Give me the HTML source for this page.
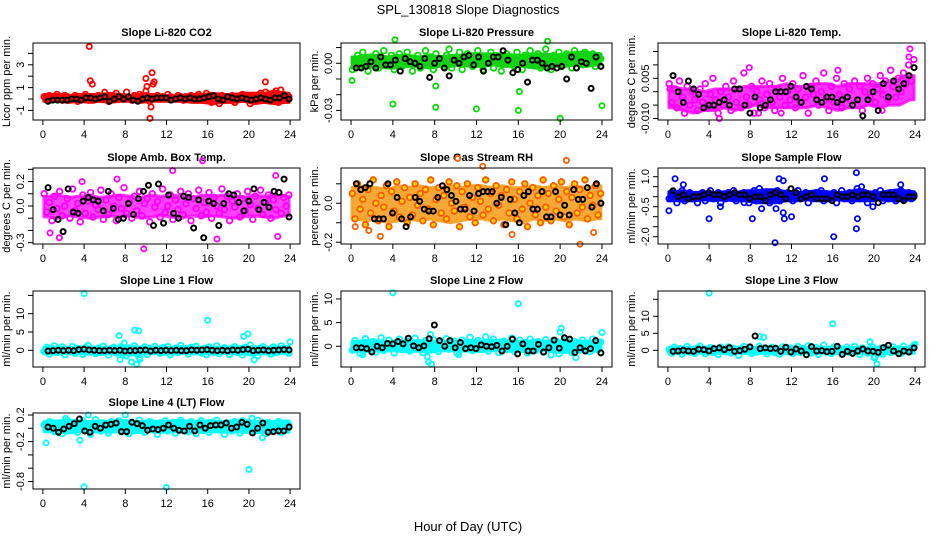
<!DOCTYPE html>
<html><head><meta charset="utf-8"><style>
html,body{margin:0;padding:0;background:#fff;}
svg{display:block;font-family:"Liberation Sans",sans-serif;}
</style></head><body>
<svg id="chart" width="936" height="540" viewBox="0 0 936 540">
<text x="468" y="14" text-anchor="middle" font-size="13">SPL_130818  Slope Diagnostics</text>
<text x="468" y="531" text-anchor="middle" font-size="13">Hour of Day (UTC)</text>
</svg>
<script>
// ---------- data ----------
const co2Color = [0.2,0.1,0.3,0.0,0.2,0.4,0.1,-0.1,0.3,0.2,0.0,0.1,0.3,-0.2,0.2,0.1,0.4,0.0,0.2,-0.1,0.1,0.3,0.2,0.0,0.1,-0.2,0.3,0.2,0.5,0.1,0.0,0.2,0.6,0.1,-0.1,0.3,0.2,0.4,0.0,0.1,0.3,-0.2,0.2,0.1,0.3,0.0,0.2,0.1,0.4,0.2,0.0,0.1,0.3,0.2,-0.1,0.2,0.1,0.3,0.0,0.2,0.4,0.1,0.2,0.5,0.0,-0.3,0.2,0.1,-0.4,0.3,0.2,0.0,0.1,0.3,-0.3,0.2,0.1,0.4,0.0,0.2,-0.4,0.3,0.1,0.2,0.5,0.1,0.6,0.2,0.3,0.1,0.7,-0.3,0.2,0.4,0.1,0.2];
const co2Out = [[4.5,4.6],[4.6,1.6],[4.8,1.3],[10.0,1.8],[10.1,1.1],[10.0,0.7],[10.6,2.3],[10.7,1.3],[10.8,1.5],[10.5,-0.7],[10.4,-1.7],[21.6,1.5],[23.1,0.8],[6.0,0.6]];
const co2Black = [-0.2,-0.1,-0.1,-0.1,-0.1,0.0,0.0,-0.1,0.1,0.1,0.0,0.1,0.2,-0.2,0.0,0.2,0.0,0.2,-0.1,-0.2,0.0,0.1,0.0,0.1,0.1,0.1,-0.1,0.0,0.1,0.0,0.1,0.0,0.0,0.1,0.2,0.3,0.0,-0.1,0.2,0.1,0.0,0.1,0.0,-0.1,0.0,0.1,0.0,-0.1,0.1,0.1,0.3,0.0];
const co2Lo = [-0.2,-0.2,-0.3,-0.2,-0.3,-0.2,-0.3,-0.2,-0.2,-0.3,-0.2,-0.2,-0.2,-0.2,-0.3,-0.3,-0.4,-0.3,-0.3,-0.2,-0.4,-0.3,-0.4,-0.3];
const co2Hi = [0.4,0.4,0.3,0.4,0.4,0.4,0.5,0.4,0.3,0.4,0.4,0.3,0.3,0.3,0.4,0.4,0.5,0.4,0.4,0.5,0.5,0.5,0.7,0.5];

const presColor = [-0.004,0.002,0.005,-0.002,0.007,0.001,-0.005,0.004,0.000,0.006,-0.003,0.003,0.008,-0.001,0.002,0.005,-0.004,0.001,0.006,-0.002,0.004,0.007,0.000,-0.005,0.003,0.005,-0.003,0.002,0.008,-0.001,0.004,-0.004,0.006,0.001,0.003,-0.002,0.005,0.009,-0.003,0.002,0.004,0.007,-0.004,0.001,0.006,0.003,-0.002,0.005,0.008,0.000,-0.004,0.004,0.002,0.007,-0.003,0.005,0.001,-0.005,0.003,0.006,0.000,0.004,-0.002,0.007,0.002,-0.004,0.005,0.003,0.008,-0.001,0.004,0.006,-0.003,0.002,0.009,0.001,-0.004,0.005,0.003,0.007,-0.002,0.004,0.006,0.001,-0.003,0.008,0.005,0.002,-0.001,0.007,0.004,0.000,0.006,-0.002,0.005,0.003];
const presOut = [[0.1,-0.011],[4.0,-0.026],[8.1,-0.0145],[8.1,-0.028],[12.0,-0.029],[16.0,-0.030],[20.0,-0.035],[24.0,-0.027],[4.2,0.015],[18.8,0.014],[16.1,-0.018]];
const presBlack = [-0.003,-0.003,-0.002,0.001,-0.003,0.004,-0.001,-0.001,0.002,-0.005,0.003,0.001,0.000,-0.002,0.003,-0.009,0.000,0.003,-0.003,-0.008,0.002,0.000,0.004,0.005,-0.001,0.004,-0.005,0.000,0.004,0.004,0.008,0.002,-0.006,-0.004,0.000,-0.012,0.002,0.002,0.000,-0.003,-0.002,-0.003,-0.002,-0.010,0.004,-0.003,0.001,0.000,-0.016,0.004,-0.002];
const presLo = [-0.003,-0.003,-0.002,-0.003,-0.003,-0.002,-0.002,-0.003,-0.002,-0.002,-0.001,-0.002,-0.002,-0.001,-0.002,-0.002,-0.002,-0.003,-0.003,-0.002,-0.002,-0.001,-0.002,-0.001];
const presHi = [0.004,0.005,0.005,0.004,0.005,0.005,0.004,0.005,0.004,0.005,0.005,0.006,0.006,0.006,0.006,0.005,0.005,0.006,0.006,0.005,0.006,0.007,0.007,0.006];

const tempColor = [0.003,-0.004,0.001,-0.006,0.004,-0.002,-0.008,0.002,-0.005,0.000,-0.003,-0.007,0.001,-0.004,0.003,-0.006,-0.001,0.005,-0.003,-0.008,0.000,-0.005,0.002,-0.002,-0.007,0.004,-0.004,0.001,-0.006,0.007,-0.002,-0.005,0.002,-0.008,0.000,-0.003,0.004,-0.006,-0.001,0.003,-0.004,-0.007,0.001,-0.002,0.005,-0.005,0.000,-0.003,0.003,-0.006,0.001,-0.004,0.006,-0.002,-0.008,0.002,-0.001,0.004,-0.005,0.000,0.007,-0.003,-0.007,0.002,-0.004,0.005,-0.001,-0.006,0.003,-0.002,0.001,-0.005,0.004,-0.003,0.002,-0.007,0.000,0.005,-0.002,0.003,-0.004,0.001,0.006,-0.001,0.004,-0.003,0.008,0.002,-0.002,0.005,0.000,0.007,0.003,0.010,0.004,0.012];
const tempOut = [[5.0,-0.010],[23.5,0.016],[23.4,0.013],[16.5,0.008],[7.9,0.009],[8.8,-0.008],[11.0,-0.008],[20.8,-0.007],[0.2,0.001]];
const tempBlack = [0.006,0.000,-0.004,0.004,0.001,-0.001,-0.006,-0.005,-0.005,-0.004,-0.003,-0.005,0.001,0.001,-0.005,-0.008,-0.002,-0.006,-0.005,-0.003,0.000,0.000,0.000,0.002,-0.002,-0.004,0.002,0.001,-0.003,-0.004,-0.002,-0.002,-0.004,-0.003,-0.002,-0.005,-0.003,-0.009,-0.003,0.000,-0.007,0.003,-0.002,0.004,0.001,0.003,0.006,0.009];
const tempLo = [-0.006,-0.007,-0.008,-0.007,-0.007,-0.006,-0.007,-0.006,-0.005,-0.006,-0.006,-0.006,-0.006,-0.006,-0.005,-0.006,-0.007,-0.006,-0.006,-0.005,-0.006,-0.005,-0.005,-0.003];
const tempHi = [0.002,0.001,0.001,0.000,0.001,0.001,0.001,0.002,0.002,0.002,0.002,0.003,0.002,0.002,0.003,0.003,0.002,0.003,0.003,0.003,0.003,0.004,0.005,0.006];

const ambColor = [0.10,-0.05,0.03,-0.12,0.08,-0.02,0.12,-0.08,0.00,0.06,-0.10,0.14,-0.04,0.02,-0.13,0.09,-0.06,0.04,0.11,-0.09,0.01,-0.03,0.13,-0.11,0.05,-0.07,0.10,0.00,-0.12,0.07,-0.02,0.15,-0.06,0.03,-0.10,0.08,-0.04,0.12,-0.08,0.02,0.06,-0.13,0.10,-0.01,0.04,-0.09,0.14,-0.05,0.00,0.09,-0.11,0.05,-0.03,0.12,-0.07,0.02,0.10,-0.12,0.06,-0.02,0.13,-0.08,0.03,-0.05,0.11,-0.10,0.07,0.00,-0.06,0.14,-0.03,0.08,-0.12,0.04,-0.01,0.10,-0.09,0.06,-0.04,0.12,0.01,-0.11,0.08,-0.02,0.13,-0.07,0.03,0.09,-0.10,0.05,-0.03,0.11,-0.06,0.07,0.00,0.09];
const ambOut = [[0.7,-0.22],[1.6,-0.26],[9.8,-0.35],[15.5,0.37],[12.6,0.29],[16.9,-0.27],[22.6,0.25],[22.8,-0.25],[3.8,0.20],[7.2,0.22]];
const ambBlack = [0.15,-0.03,-0.11,-0.21,0.14,-0.05,-0.06,0.04,0.07,0.05,0.04,-0.04,0.12,-0.02,-0.11,-0.10,0.02,-0.07,0.06,0.12,0.17,-0.16,0.18,-0.14,0.09,-0.06,-0.10,0.08,0.07,-0.18,0.05,-0.26,0.04,0.02,-0.16,0.02,0.10,0.09,0.03,-0.04,0.04,0.14,-0.03,0.03,-0.01,0.12,0.11,0.22,-0.09];
const ambLo = [-0.09,-0.10,-0.08,-0.09,-0.10,-0.09,-0.08,-0.09,-0.08,-0.10,-0.09,-0.08,-0.09,-0.10,-0.08,-0.09,-0.08,-0.09,-0.10,-0.09,-0.08,-0.09,-0.10,-0.08];
const ambHi = [0.08,0.09,0.07,0.08,0.09,0.07,0.08,0.09,0.08,0.07,0.09,0.08,0.09,0.08,0.07,0.09,0.08,0.09,0.08,0.07,0.09,0.08,0.09,0.08];

const rhColor = [0.05,-0.08,0.10,-0.03,0.02,-0.11,0.07,-0.05,0.12,0.00,-0.09,0.04,-0.02,0.09,-0.12,0.06,-0.04,0.11,-0.07,0.01,0.08,-0.10,0.03,-0.06,0.10,-0.01,0.05,-0.09,0.07,-0.03,0.12,-0.11,0.02,0.08,-0.05,0.04,-0.08,0.11,0.00,-0.04,0.09,-0.12,0.06,-0.02,0.10,-0.07,0.03,-0.10,0.08,0.01,-0.06,0.12,-0.03,0.05,-0.09,0.09,-0.01,0.04,-0.11,0.07,-0.05,0.11,0.02,-0.08,0.06,-0.03,0.10,-0.12,0.00,0.08,-0.06,0.04,-0.10,0.12,-0.02,0.05,-0.09,0.09,-0.04,0.02,0.11,-0.07,0.06,-0.11,0.03,0.10,-0.05,0.07,-0.02,0.12,-0.08,0.04,-0.01,0.09,-0.06,0.05];
const rhOut = [[10.2,0.23],[12.6,0.19],[20.6,0.22],[21.9,-0.21],[2.8,-0.17],[15.4,-0.16],[23.2,-0.15],[1.7,-0.14],[0.4,-0.12]];
const rhBlack = [0.10,0.07,0.08,0.10,-0.08,-0.08,-0.08,0.10,-0.05,0.03,-0.08,-0.12,-0.07,0.03,0.01,-0.03,-0.04,-0.04,0.03,0.09,0.07,0.04,0.01,-0.03,-0.03,0.04,-0.04,0.05,0.06,0.06,0.06,0.00,0.03,-0.11,0.02,-0.05,-0.10,0.04,0.06,-0.03,-0.03,0.06,-0.07,-0.07,0.06,-0.06,-0.01,-0.06,0.07,0.02,0.02,0.08,-0.02,0.10,0.00];
const rhLo = [-0.08,-0.09,-0.08,-0.10,-0.09,-0.08,-0.09,-0.08,-0.09,-0.10,-0.09,-0.08,-0.08,-0.09,-0.08,-0.09,-0.10,-0.08,-0.09,-0.08,-0.09,-0.08,-0.09,-0.08];
const rhHi = [0.08,0.09,0.08,0.07,0.09,0.08,0.09,0.08,0.08,0.09,0.08,0.09,0.09,0.08,0.09,0.08,0.08,0.09,0.08,0.09,0.08,0.09,0.08,0.09];

const sfColor = [-0.1,0.2,0.0,-0.3,0.1,0.3,-0.2,0.0,0.2,-0.1,0.1,-0.3,0.0,0.2,-0.2,0.1,0.3,-0.1,0.0,0.2,-0.3,0.1,-0.1,0.2,0.0,0.3,-0.2,0.1,-0.1,0.2,0.0,-0.3,0.1,0.3,-0.2,0.4,0.0,-0.1,0.2,-0.3,0.1,0.0,0.3,-0.2,0.1,-0.1,0.2,0.0,-0.2,0.1,0.3,-0.1,0.0,0.2,-0.3,0.1,-0.1,0.2,0.0,0.3,-0.2,0.1,-0.1,0.0,0.2,-0.3,0.1,0.3,-0.1,0.0,0.2,-0.2,0.1,0.4,-0.1,0.0,0.2,-0.3,0.1,-0.1,0.2,0.0,0.3,-0.2,0.1,-0.1,0.2,0.0,-0.2,0.1,0.3,-0.1,0.0,0.2,-0.1,0.1];
const sfOut = [[0.1,-0.7],[0.7,0.9],[1.5,0.6],[4.0,-1.1],[5.1,-0.5],[7.4,-0.3],[8.2,-1.1],[9.1,-0.6],[10.4,-2.3],[10.5,-0.6],[10.8,0.9],[11.2,-0.8],[11.3,-1.1],[12.0,-1.0],[15.2,0.9],[16.1,-2.0],[18.3,-1.6],[18.4,-1.1],[18.3,1.2],[18.8,0.5],[19.9,-0.5],[22.6,0.6],[11.2,0.8]];
const sfBlack = [0.3,0.0,0.1,-0.1,0.0,0.0,0.1,0.2,0.1,0.1,0.0,0.1,0.2,0.1,0.1,-0.1,0.0,0.0,-0.2,0.1,0.2,0.1,-0.1,0.4,0.2,-0.1,0.0,0.1,-0.1,-0.1,-0.1,-0.2,0.1,0.0,0.0,0.1,0.0,0.1,0.1,0.0,-0.3,0.1,0.1,0.1,-0.1,-0.2,0.0,0.0];
const sfLo = [-0.2,-0.2,-0.2,-0.15,-0.2,-0.15,-0.2,-0.2,-0.3,-0.3,-0.3,-0.2,-0.2,-0.15,-0.2,-0.2,-0.15,-0.2,-0.2,-0.2,-0.15,-0.2,-0.2,-0.15];
const sfHi = [0.25,0.3,0.2,0.25,0.2,0.25,0.2,0.3,0.3,0.35,0.35,0.25,0.2,0.25,0.3,0.25,0.2,0.25,0.35,0.25,0.2,0.3,0.35,0.25];

const l1Color = [-0.3,0.8,-1.0,0.4,1.2,-0.6,0.0,0.9,-1.2,0.3,-0.4,1.0,-0.8,0.5,0.0,-1.1,0.7,1.3,-0.3,0.2,-0.9,0.6,-0.5,1.1,0.0,-1.3,0.4,0.8,-0.7,0.1,1.0,-0.4,-1.5,0.6,-0.2,1.2,-0.9,-2.0,0.3,0.9,-1.1,0.5,-0.3,1.1,0.0,-0.8,0.7,-0.5,1.0,-1.2,0.2,0.6,-0.6,1.3,-0.1,0.4,-1.0,0.8,-0.4,1.1,0.0,-0.7,0.5,-1.2,0.9,0.2,-0.5,1.2,-0.9,0.3,0.7,-0.3,-1.1,0.6,1.0,-0.6,0.1,-1.3,0.8,-0.2,1.4,-0.8,0.4,-1.5,0.6,1.0,-0.4,0.2,-1.0,0.9,-0.6,0.3,1.2,-0.2,0.5,-0.8];
const l1Out = [[4.0,15.5],[7.4,4.0],[7.5,-2.5],[7.9,2.0],[8.6,-3.2],[8.9,5.5],[9.3,5.3],[9.1,-3.8],[9.4,-2.5],[16.0,8.2],[19.5,3.8],[19.9,4.5],[20.5,-2.6],[24.0,2.3]];
const l1Black = [-0.2,-0.1,0.0,-0.1,0.0,-0.1,0.2,0.3,0.1,0.0,-0.1,-0.1,0.0,-0.1,0.0,-0.2,-0.1,-0.1,0.0,0.1,-0.2,0.0,-0.1,0.0,-0.1,0.0,-0.1,-0.1,0.1,0.0,0.1,0.2,0.0,-0.1,0.0,-0.1,0.1,0.0,0.2,0.3,-0.1,0.0,0.1,-0.1,0.0,0.1,0.2,0.1];
const l1Lo = [-0.9,-1.0,-0.8,-0.9,-1.0,-1.1,-0.9,-1.2,-1.3,-1.0,-0.9,-0.9,-1.0,-0.8,-0.9,-0.9,-1.0,-0.8,-0.9,-1.0,-1.1,-0.9,-1.0,-0.8];
const l1Hi = [0.8,0.9,0.7,0.9,0.8,0.9,0.8,1.0,1.0,0.9,0.8,0.9,0.8,1.0,0.9,0.8,0.9,0.8,0.9,1.0,0.9,0.8,0.9,1.0];

const l2Color = [-0.8,1.2,0.3,-1.5,0.8,1.6,-0.5,0.0,1.0,-1.2,0.5,1.8,-0.9,0.2,1.3,-0.3,-1.4,0.9,1.5,-0.7,0.4,1.1,-1.0,0.0,1.7,-0.5,0.7,-1.3,1.2,0.2,-0.8,1.4,0.6,-1.1,0.9,-0.2,1.6,-0.6,0.3,1.1,-1.4,0.5,1.3,-0.4,0.8,1.9,-0.9,0.1,1.2,-0.6,0.6,2.0,-1.0,0.3,1.5,-0.2,-1.3,0.9,1.1,-0.7,0.4,1.7,-1.1,0.0,1.3,-0.5,0.8,-1.4,1.5,0.2,-0.9,1.0,0.5,-1.2,1.4,-0.3,-1.8,0.7,1.1,-1.6,0.3,1.2,-0.6,0.9,-1.3,1.0,0.4,-0.8,1.3,-0.4,0.6,-1.1,1.5,0.1,-0.7,0.9];
const l2Out = [[4.0,11.3],[16.0,9.0],[7.3,-2.2],[7.4,-3.3],[7.7,-3.8],[20.1,3.8],[20.0,3.0],[21.5,-2.4],[24.0,2.9],[7.6,2.5],[1.1,-1.8],[10.3,-1.8]];
const l2Black = [-0.3,-0.3,-0.5,-1.2,0.0,-0.3,0.6,0.5,1.0,0.5,1.7,0.1,-0.3,0.1,1.6,4.5,1.2,0.0,1.2,-0.3,0.8,-0.5,-0.3,-0.5,0.3,0.0,-0.1,0.2,-1.0,0.0,1.5,-1.6,0.5,-1.0,-1.0,0.4,-1.2,-0.3,1.3,-0.4,1.8,1.5,-1.3,-0.3,-1.0,-0.5,1.2,-1.4];
const l2Lo = [-1.0,-1.1,-1.0,-0.9,-1.0,-1.1,-1.0,-1.2,-1.0,-0.9,-1.0,-1.0,-1.1,-0.9,-1.0,-1.0,-1.1,-1.0,-0.9,-1.2,-1.3,-1.1,-1.0,-1.0];
const l2Hi = [1.0,1.2,1.1,1.0,1.1,1.0,1.2,1.1,1.0,1.1,1.0,1.2,1.1,1.3,1.2,1.1,1.0,1.2,1.1,1.0,1.1,1.0,1.1,1.0];

const l3Color = [0.2,-0.8,0.9,-0.3,0.5,-1.1,0.0,1.1,-0.5,0.3,-0.9,0.7,1.2,-0.2,-1.0,0.4,0.8,-0.6,0.1,-1.2,0.9,0.3,-0.4,1.0,-0.8,0.6,0.0,-1.5,0.5,1.1,-0.3,0.8,-0.9,0.2,-0.5,1.2,-0.1,0.6,-1.0,0.4,0.9,-0.7,0.2,-1.1,1.0,0.0,-0.4,0.7,-0.9,0.3,1.1,-0.6,0.5,-0.2,1.3,-0.8,0.1,0.8,-1.2,0.4,1.5,-0.5,0.2,-0.9,1.0,-0.3,0.6,-1.0,0.3,0.9,-0.6,0.0,1.1,-0.4,-1.2,0.7,0.2,-0.8,0.5,1.0,-2.0,-0.3,0.6,-1.1,0.8,0.1,-0.6,1.0,-0.2,0.4,-0.9,1.2,0.0,-0.5,0.7,1.4];
const l3Out = [[4.0,16.8],[16.0,7.8],[8.9,4.0],[9.3,3.8],[19.6,2.5],[20.0,-2.2],[20.3,-4.0],[24.0,1.8]];
const l3Black = [-0.3,-0.2,0.0,-0.2,-0.3,0.3,0.2,-0.2,0.5,0.7,0.2,0.8,-0.3,-0.1,0.3,1.0,4.2,0.5,0.7,0.5,0.6,-0.3,0.9,-0.5,0.4,-0.2,-1.3,1.1,-0.2,-0.1,-0.4,-0.3,1.2,-1.2,-0.3,-0.9,-0.2,0.4,-0.2,-0.3,-0.6,0.8,1.5,-0.2,-1.0,-0.2,-0.5,0.7];
const l3Lo = [-0.8,-0.9,-0.8,-0.9,-0.8,-0.9,-0.8,-0.9,-0.8,-0.9,-0.8,-0.9,-0.9,-0.8,-0.9,-0.8,-0.9,-0.8,-0.9,-0.8,-1.2,-0.9,-0.8,-0.9];
const l3Hi = [0.8,0.9,0.8,0.9,0.8,0.8,0.9,0.8,0.8,0.9,0.8,0.8,0.9,0.9,0.8,0.9,0.8,0.8,0.9,0.8,0.8,0.9,0.8,0.9];

const l4Color = [0.05,-0.02,0.10,0.00,-0.05,0.08,0.03,-0.08,0.06,0.12,-0.03,0.02,0.09,-0.06,0.04,0.11,-0.01,0.07,-0.09,0.05,0.13,0.00,-0.04,0.08,0.02,-0.07,0.10,0.04,-0.02,0.11,-0.05,0.06,0.01,-0.08,0.09,0.03,-0.03,0.12,0.00,-0.06,0.07,0.10,-0.02,0.04,-0.09,0.08,0.01,0.11,-0.04,0.05,0.09,-0.07,0.02,0.12,-0.01,0.06,-0.05,0.10,0.03,-0.08,0.07,0.11,-0.03,0.04,-0.06,0.09,0.00,0.12,-0.02,0.06,-0.09,0.08,0.03,-0.04,0.10,0.01,-0.07,0.11,0.05,-0.01,0.08,-0.05,0.03,0.12,-0.03,0.06,-0.08,0.09,0.01,0.04,-0.02,0.10,-0.06,0.07,0.02,0.05];
const l4Out = [[0.3,-0.22],[3.6,-0.18],[4.0,-0.88],[12.0,-0.89],[20.0,-0.62],[4.4,0.20],[8.0,0.20],[2.2,0.15],[21.3,-0.14],[20.3,0.15]];
const l4Black = [0.02,0.00,-0.06,-0.01,0.03,0.07,0.14,-0.04,-0.06,0.03,0.00,0.05,0.06,0.08,-0.05,-0.05,0.09,0.07,0.04,-0.03,-0.01,-0.02,0.00,0.05,0.00,-0.03,-0.04,0.03,-0.04,0.05,0.00,0.04,0.05,0.05,0.08,0.00,0.02,0.09,0.06,-0.07,0.00,0.08,-0.06,-0.05,-0.04,-0.04,0.02];
const l4Lo = [-0.05,-0.06,-0.07,-0.05,-0.06,-0.05,-0.06,-0.05,-0.07,-0.06,-0.05,-0.06,-0.05,-0.06,-0.05,-0.06,-0.05,-0.06,-0.05,-0.06,-0.07,-0.06,-0.05,-0.06];
const l4Hi = [0.10,0.11,0.12,0.11,0.10,0.11,0.10,0.12,0.11,0.10,0.11,0.10,0.11,0.12,0.10,0.11,0.11,0.10,0.11,0.12,0.10,0.11,0.10,0.11];

const xTicks = [0,4,8,12,16,20,24];
const titles = ["Slope Li-820 CO2","Slope Li-820 Pressure","Slope Li-820 Temp.","Slope Amb. Box Temp.","Slope Gas Stream RH","Slope Sample Flow","Slope Line 1 Flow","Slope Line 2 Flow","Slope Line 3 Flow","Slope Line 4 (LT) Flow"];
const yTitles = ["Licor ppm per min.","kPa per min.","degrees C per min.","degrees C per min.","percent per min.","ml/min per min.","ml/min per min.","ml/min per min.","ml/min per min.","ml/min per min."];
const yTicks = [[-1,0,1,2,3,4],[0.01,0,-0.01,-0.02,-0.03],[-0.01,-0.005,0,0.005,0.01,0.015],[-0.3,-0.2,-0.1,0,0.1,0.2,0.3],[-0.2,-0.1,0,0.1],[-2,-1.5,-1,-0.5,0,0.5,1],[0,5,10,15],[0,5,10],[0,5,10,15],[0.2,0,-0.2,-0.4,-0.6,-0.8]];
const yLabels = [[[-1,"-1"],[1,"1"],[3,"3"]],[[0,"0.00"],[-0.03,"-0.03"]],[[0.005,"0.005"],[-0.01,"-0.010"]],[[0.2,"0.2"],[0,"0.0"],[-0.3,"-0.3"]],[[0,"0.0"],[-0.2,"-0.2"]],[[1,"1.0"],[-0.5,"-0.5"],[-2,"-2.0"]],[[0,"0"],[5,"5"],[10,"10"]],[[0,"0"],[5,"5"],[10,"10"]],[[0,"0"],[5,"5"],[10,"10"]],[[0.2,"0.2"],[-0.2,"-0.2"],[-0.8,"-0.8"]]];
const yDomains = [[-1.84,4.91],[-0.0361,0.0129],[-0.01056,0.01817],[-0.311,0.311],[-0.209,0.181],[-2.365,1.435],[-4.56,16.2],[-4.37,11.67],[-4.91,17.44],[-0.913,0.23]];
const colorSeries = [co2Color,presColor,tempColor,ambColor,rhColor,sfColor,l1Color,l2Color,l3Color,l4Color];
const outSeries = [co2Out,presOut,tempOut,ambOut,rhOut,sfOut,l1Out,l2Out,l3Out,l4Out];
const blackSeries = [co2Black,presBlack,tempBlack,ambBlack,rhBlack,sfBlack,l1Black,l2Black,l3Black,l4Black];
const bandLo = [co2Lo,presLo,tempLo,ambLo,rhLo,sfLo,l1Lo,l2Lo,l3Lo,l4Lo];
const bandHi = [co2Hi,presHi,tempHi,ambHi,rhHi,sfHi,l1Hi,l2Hi,l3Hi,l4Hi];

// ---------- layout / style (not data) ----------
const colL = [33,341,658], colR = [300,612,925];
const rowT = [43,168,291,413], rowB = [120,244,367,489];
const strokes = ["#ff0000","#00e000","#ff00ff","#ff00ff","#ff5a00","#0000ff","#00ffff","#00ffff","#00ffff","#00ffff"];
const bandFill = ["#ff0000","#22c822","#ff00ff","#ff00ff","#f5a020","#0000ff","#00ffff","#00ffff","#00ffff","#00ffff"];
const bandOpacity = [1,1,0.8,0.75,0.9,1,1,1,1,1];
const fills = ["none","none","none","none","#ffd200","none","none","none","none","none"];
const names = ["co2","pressure","li820-temp","amb-box-temp","gas-rh","sample-flow","line1-flow","line2-flow","line3-flow","line4-flow"];

const NS = "http://www.w3.org/2000/svg";
const svg = document.getElementById("chart");
function mk(tag, attrs, parent){const e=document.createElementNS(NS,tag);for(const k in attrs)e.setAttribute(k,attrs[k]);parent.appendChild(e);return e;}

for (let p=0;p<10;p++){
  const c=p%3, r=Math.floor(p/3);
  const L=colL[c], R=colR[c], T=rowT[r], B=rowB[r];
  const xs=h=>L+(h+0.96)/25.92*(R-L);
  const [y0,y1]=yDomains[p];
  const ys=v=>B-(v-y0)/(y1-y0)*(B-T);
  const g=mk("g",{},svg);
  
  
  const t=mk("text",{x:(L+R)/2,y:T-7,"text-anchor":"middle","font-size":"11","font-weight":"bold"},g);
  t.textContent=titles[p];
  
  
  // dense band
  const lo=bandLo[p], hi=bandHi[p], k=lo.length;
  const top=[], bot=[];
  top.push(xs(0.1)+","+ys(hi[0]));
  hi.forEach((v,i)=>top.push(xs(24*(i+0.5)/k)+","+ys(v)));
  top.push(xs(23.9)+","+ys(hi[k-1]));
  bot.push(xs(23.9)+","+ys(lo[k-1]));
  for(let i=k-1;i>=0;i--) bot.push(xs(24*(i+0.5)/k)+","+ys(lo[i]));
  bot.push(xs(0.1)+","+ys(lo[0]));
  const band=mk("polygon",{points:top.concat(bot).join(" "),fill:bandFill[p],"fill-opacity":bandOpacity[p],stroke:bandFill[p],"stroke-width":3,"stroke-opacity":bandOpacity[p],"stroke-linejoin":"round"},g);
  
  
  // points
  const pts=mk("g",{},g);
  
  
  const n=colorSeries[p].length;
  colorSeries[p].forEach((v,i)=>{
    const h=24*(i+0.5)/n;
    const e=mk("circle",{cx:xs(h),cy:ys(v),r:2.8,fill:fills[p],stroke:strokes[p],"stroke-width":1.8},pts);
    
    
  });
  outSeries[p].forEach(d=>{
    const e=mk("circle",{cx:xs(d[0]),cy:ys(d[1]),r:2.6,fill:fills[p]==="none"?"none":"#fff",stroke:strokes[p],"stroke-width":1.8},pts);
    
    
  });
  const bk=mk("g",{},g);
  
  
  const m=blackSeries[p].length;
  blackSeries[p].forEach((v,i)=>{
    const h=0.5+i*23.4/(m-1);
    const e=mk("circle",{cx:xs(h),cy:ys(v),r:2.5,fill:"none",stroke:"#000","stroke-width":2},bk);
    
    
  });
  const box=mk("rect",{x:L,y:T,width:R-L,height:B-T,fill:"none",stroke:"#000","stroke-width":1},g);
  
  
  const xa=mk("g",{},g);
  
  
  mk("line",{x1:xs(0),x2:xs(24),y1:B,y2:B,stroke:"#000"},xa);
  xTicks.forEach(h=>{
    mk("line",{x1:xs(h),x2:xs(h),y1:B,y2:B+5,stroke:"#000"},xa);
    const tl=mk("text",{x:xs(h),y:B+18,"text-anchor":"middle","font-size":"11"},xa);
    tl.textContent=h;
    
    
  });
  const ya=mk("g",{},g);
  
  
  const tv=yTicks[p];
  mk("line",{x1:L,x2:L,y1:ys(Math.min(...tv)),y2:ys(Math.max(...tv)),stroke:"#000"},ya);
  tv.forEach(v=>{mk("line",{x1:L-5,x2:L,y1:ys(v),y2:ys(v),stroke:"#000"},ya);});
  yLabels[p].forEach(d=>{
    const yy=ys(d[0]);
    const tl=mk("text",{x:L-9,y:yy,"text-anchor":"middle","font-size":"11",transform:`rotate(-90 ${L-9} ${yy})`},ya);
    tl.textContent=d[1];
    
    
  });
  const yc=(T+B)/2, xt=L-23;
  const yt=mk("text",{x:xt,y:yc,"text-anchor":"middle","font-size":"11",transform:`rotate(-90 ${xt} ${yc})`},ya);
  yt.textContent=yTitles[p];
  
  
}
</script>
</body></html>
